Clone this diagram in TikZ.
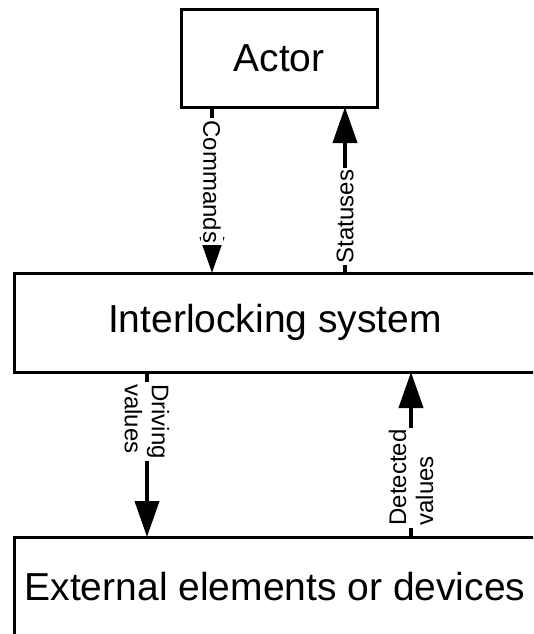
\documentclass[tikz,border=0pt]{standalone}
\usepackage{fontspec}
\setmainfont{Liberation Sans}
\usetikzlibrary{arrows.meta}
\tikzset{>={Triangle[length=36pt, width=24pt]}}
\tikzset{
    blk/.style={draw, line width=3pt, outer sep=0pt, minimum height=99pt, font=\fontsize{39}{47}\selectfont},
    flow/.style={line width=4pt},
    lbl/.style={fill=white, inner sep=2pt, align=left, font=\fontsize{24}{27}\selectfont}
}

\begin{document}
\begin{tikzpicture}[x=1pt, y=-1pt]
    \useasboundingbox (0, 0) rectangle (533, 634);
    \clip (0, 0) rectangle (533, 634);
    \node[blk, minimum width=196pt, minimum height=97pt] (actor) at (279, 58.5) {Actor};
    \node[blk, minimum width=522pt] (ils) at (275, 322.5) {Interlocking system};
    \node[blk, minimum width=522pt] (ext) at (275, 586.5) {External elements or devices};
    \draw[flow, ->]([xshift=-67pt]actor.south)--([xshift=-67pt]actor.south |- ils.north)node[lbl, pos=.45, rotate=-90]{Commands};
    \draw[flow, ->]([xshift=66pt]actor.south |- ils.north)--([xshift=66pt]actor.south)node[lbl, pos=.34, rotate=90]{Statuses};
    \draw[flow, ->]([xshift=-128pt]ils.south)--([xshift=-128pt]ils.south |- ext.north)node[lbl, pos=.30, rotate=-90]{Driving\\values};
    \draw[flow, ->]([xshift=136pt]ils.south |- ext.north)--([xshift=136pt]ils.south)node[lbl, pos=.36, rotate=90]{Detected\\values};
\end{tikzpicture}
\end{document}
